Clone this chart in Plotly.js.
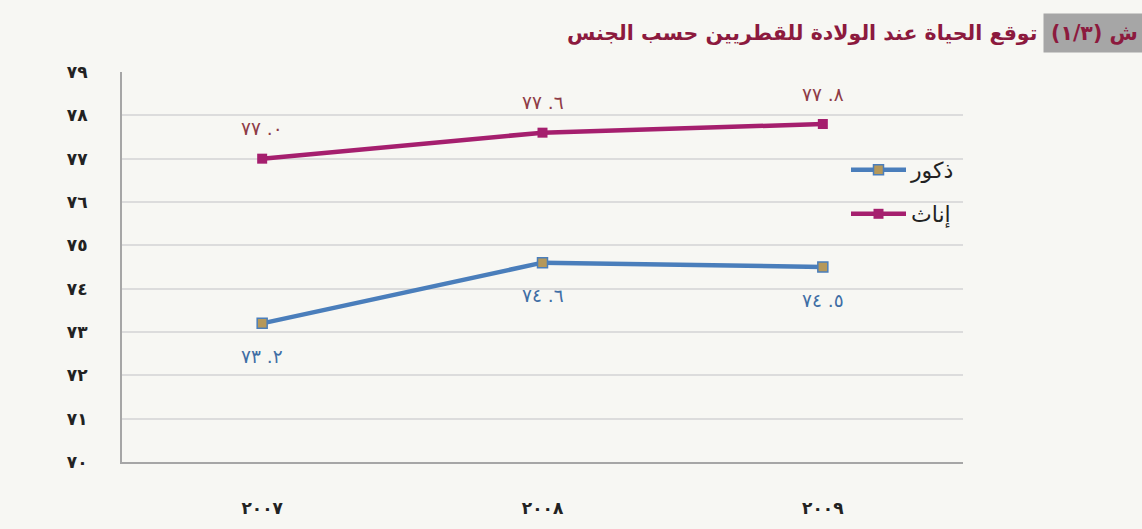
<!DOCTYPE html>
<html><head><meta charset="utf-8">
<script src="https://cdn.plot.ly/plotly-3.0.1.min.js"></script>
<style>html,body{margin:0;padding:0;background:#f7f7f3;}#chart{width:1142px;height:529px;}</style>
</head><body><div id="chart"></div>
<script>
var years = ['2007', '2008', '2009'];
var yearLabels = ['٢٠٠٧', '٢٠٠٨', '٢٠٠٩'];
var males = [73.2, 74.6, 74.5];
var females = [77.0, 77.6, 77.8];
var maleLabels = ['٧٣ .٢', '٧٤ .٦', '٧٤ .٥'];
var femaleLabels = ['٧٧ .٠', '٧٧ .٦', '٧٧ .٨'];
var yTicks = [70, 71, 72, 73, 74, 75, 76, 77, 78, 79];
var yTickLabels = ['٧٠', '٧١', '٧٢', '٧٣', '٧٤', '٧٥', '٧٦', '٧٧', '٧٨', '٧٩'];
var maleName = 'ذكور';
var femaleName = 'إناث';
var titleTag = 'ش (١/٣)';
var titleText = 'توقع الحياة عند الولادة للقطريين حسب الجنس';

var F = '"DejaVu Sans", sans-serif';
var blue = '#4a7ebb', mag = '#a51f6e';
var LRM = '\u200E';
function ltr(s) { return LRM + s.split(' ').join(LRM + ' ').split('.').join('.' + LRM) + LRM; }

var traces = [
  {x: years, y: males, name: maleName, type: 'scatter', mode: 'lines+markers', legend: 'legend',
   line: {color: blue, width: 4.5}, marker: {symbol: 'square', size: 10, color: '#b5985a', line: {color: blue, width: 1.5}}},
  {x: years, y: females, name: femaleName, type: 'scatter', mode: 'lines+markers', legend: 'legend2',
   line: {color: mag, width: 4.5}, marker: {symbol: 'square', size: 10, color: mag}}
];

var annotations = [];
years.forEach(function(yr, i) {
  annotations.push({x: i, y: females[i], xref: 'x', yref: 'y', text: ltr(femaleLabels[i]), showarrow: false,
    yshift: 30, font: {family: F, size: 18.5, color: '#8e3b46'}});
  annotations.push({x: i, y: males[i], xref: 'x', yref: 'y', text: ltr(maleLabels[i]), showarrow: false,
    yshift: -33, font: {family: F, size: 18.5, color: '#3f6ea5'}});
});
annotations.push({xref: 'paper', yref: 'paper', x: (1039 - 122) / 841, y: 1 + (72 - 33) / 390, xanchor: 'right', yanchor: 'middle',
  text: '<b>' + titleText + '</b>', showarrow: false, font: {family: F, size: 20.5, color: '#8c1a3e'}});
annotations.push({xref: 'paper', yref: 'paper', x: (1043 - 122) / 841, y: 1 + (72 - 33) / 390, xanchor: 'left', yanchor: 'middle',
  text: '<b>' + titleTag + '</b>', showarrow: false, bgcolor: '#a6a6a6', borderpad: 7,
  font: {family: F, size: 20.5, color: '#8c1a3e'}});

var layout = {
  width: 1142, height: 529,
  margin: {l: 122, r: 179, t: 72, b: 67},
  paper_bgcolor: '#f7f7f3', plot_bgcolor: '#f7f7f3',
  showlegend: true,
  xaxis: {type: 'category', range: [-0.5, 2.5], tickvals: years, ticktext: yearLabels,
    showgrid: false, showline: true, linecolor: '#a6a6a6', linewidth: 2, ticks: '', zeroline: false,
    ticklabelstandoff: 30, tickfont: {family: F, size: 17, color: '#222', weight: 'bold'}},
  yaxis: {range: [70, 79], tickvals: yTicks, ticktext: yTickLabels, showgrid: true, gridcolor: '#dcdcdc', gridwidth: 1.5,
    showline: true, linecolor: '#a6a6a6', linewidth: 2, ticks: '', zeroline: false,
    ticklabelstandoff: 29, tickfont: {family: F, size: 17, color: '#222', weight: 'bold'}},
  legend: {x: (846 - 122) / 841, y: 1 - (170 - 72) / 390, xanchor: 'left', yanchor: 'middle', bgcolor: 'rgba(0,0,0,0)',
    itemwidth: 55, font: {family: F, size: 22, color: '#222'}},
  legend2: {x: (846 - 122) / 841, y: 1 - (214 - 72) / 390, xanchor: 'left', yanchor: 'middle', bgcolor: 'rgba(0,0,0,0)',
    itemwidth: 55, font: {family: F, size: 22, color: '#222'}},
  annotations: annotations
};
Plotly.newPlot('chart', traces, layout, {displayModeBar: false});
</script></body></html>
